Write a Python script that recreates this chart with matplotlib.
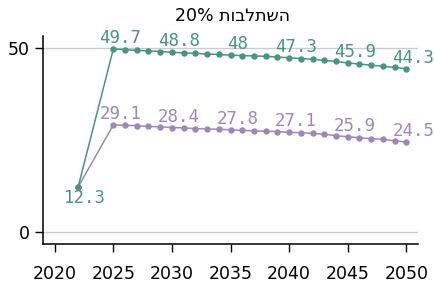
import matplotlib
matplotlib.use('Agg')
import matplotlib.pyplot as plt

# ===== 数据 =====
years_a = [2022] + list(range(2025, 2051))
vals_a = [12.3, 49.7, 49.5, 49.3, 49.2, 49.0, 48.8, 48.6, 48.5, 48.3, 48.2,
          48.0, 47.9, 47.8, 47.7, 47.5, 47.3, 47.1, 46.9, 46.6, 46.3,
          45.9, 45.6, 45.3, 45.0, 44.7, 44.3]
vals_b = [12.3, 29.1, 29.0, 28.9, 28.7, 28.6, 28.4, 28.3, 28.1, 28.0, 27.9,
          27.8, 27.6, 27.5, 27.4, 27.3, 27.1, 27.0, 26.8, 26.6, 26.2,
          25.9, 25.6, 25.4, 25.2, 24.8, 24.5]
labels_a = {2022: '12.3', 2025: '49.7', 2030: '48.8', 2035: '48',
            2040: '47.3', 2045: '45.9', 2050: '44.3'}
labels_b = {2025: '29.1', 2030: '28.4', 2035: '27.8', 2040: '27.1',
            2045: '25.9', 2050: '24.5'}
xticks = [2020, 2025, 2030, 2035, 2040, 2045, 2050]
yticks = [0, 50]
title = '20% ' + 'השתלבות'[::-1]  # 手动翻转希伯来文（matplotlib 不做双向排版）

green = '#4a957b'
purple = '#9d89b8'

fig = plt.figure(figsize=(4.35, 2.89), dpi=100)
ax = fig.add_axes([0.0989, 0.154, 0.961 - 0.0989, 0.8754 - 0.154])

ax.plot(years_a, vals_b, color=purple, lw=1.1, marker='o', ms=3.6, zorder=3)
ax.plot(years_a, vals_a, color=green, lw=1.1, marker='o', ms=3.6, zorder=4)

for x, y in zip(years_a, vals_b):
    if x in labels_b:
        ax.annotate(labels_b[x], (x, y), xytext=(5, 4.3), textcoords='offset points',
                    ha='center', va='baseline', color=purple,
                    family='DejaVu Sans Mono', fontsize=12.5)
for x, y in zip(years_a, vals_a):
    if x in labels_a:
        dy = -11.3 if x == 2022 else 4.3
        ax.annotate(labels_a[x], (x, y), xytext=(5, dy), textcoords='offset points',
                    ha='center', va='baseline', color=green,
                    family='DejaVu Sans Mono', fontsize=12.5)

ax.set_xlim(2019, 2051)
ax.set_ylim(-3.3, 53.2)
ax.set_xticks(xticks)
ax.set_yticks(yticks)
ax.tick_params(axis='both', length=6, width=1, direction='out', labelsize=12.5)
ax.tick_params(axis='x', pad=9)
ax.tick_params(axis='y', pad=3.5)

ax.grid(axis='y', color='#cccccc', lw=1)
ax.set_axisbelow(True)
for s in ['top', 'right']:
    ax.spines[s].set_visible(False)
for s in ['left', 'bottom']:
    ax.spines[s].set_linewidth(1.1)

fig.text(0.535, 0.927, title, ha='center', va='baseline', fontsize=12.5)

plt.savefig('out.png', dpi=100)
